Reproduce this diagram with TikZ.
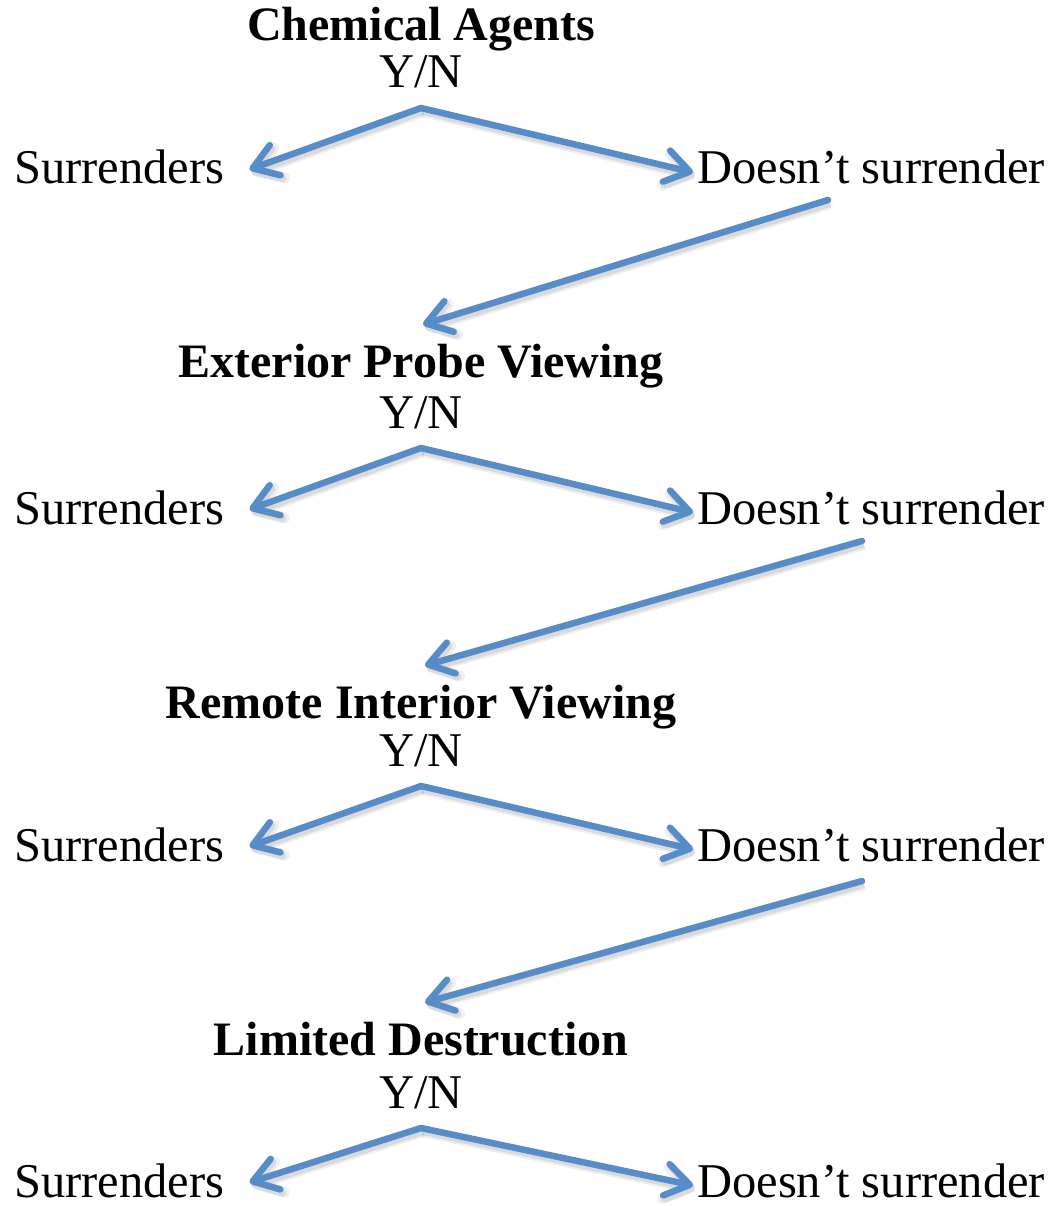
\documentclass[tikz,border=0pt]{standalone}
\usepackage{fontspec}
\setmainfont{Liberation Serif}
\usetikzlibrary{arrows.meta,calc}
\definecolor{arrowblue}{RGB}{86,140,200}
\begin{document}
\begin{tikzpicture}[x=1pt,y=-1pt,
  lbl/.style={font=\fontsize{48.5}{56}\selectfont, inner sep=0pt},
  head/.style={font=\fontsize{48}{56}\selectfont\bfseries, inner sep=0pt},
  softshadow/.style={
    preaction={draw=black!60, draw opacity=0.10, line width=11pt,
      transform canvas={shift={(2pt,-3.5pt)}}},
    preaction={draw=black!60, draw opacity=0.15, line width=7pt,
      transform canvas={shift={(2pt,-3.5pt)}}}},
  arr/.style={draw=arrowblue, line width=6.5pt, line cap=round,
    -{Straight Barb[length=24pt,width=32pt,round]}, softshadow}
]
\useasboundingbox[fill=white] (0,0) rectangle (1052,1206);

% one decision block per stage: heading, Y/N, fork to the two outcomes
\foreach \i/\txt/\hy/\yy/\sy in {
  1/{Chemical Agents}/41/88/184,
  2/{Exterior Probe Viewing}/377/428/524,
  3/{Remote Interior Viewing}/718/766/861,
  4/{Limited Destruction}/1055/1108/1197}{
  \node[head, anchor=base] (h\i) at (421,\hy) {\txt};
  \node[lbl, anchor=base] (yn\i) at (421,\yy) {Y/N};
  \node[lbl, anchor=base west] (s\i) at (14,\sy) {Surrenders};
  \node[lbl, anchor=base west] (d\i) at (697,\sy) {Doesn’t surrender};
  \coordinate (a\i) at ($(yn\i.base)+(0,20)$);
  \draw[arr] (a\i) -- ([xshift=25pt,yshift=-2pt]s\i.east);
  \draw[arr] (a\i) -- ([xshift=-4pt,yshift=-5pt]d\i.west);
}

% links from each refusal to the next stage
\coordinate (c1) at ($(d1.base west)+(131,16)$);
\coordinate (c2) at ($(d2.base west)+(165,17)$);
\coordinate (c3) at ($(d3.base west)+(165,20)$);
\draw[arr] (c1) -- ([xshift=2pt,yshift=19pt]h2.north);
\draw[arr] (c2) -- ([xshift=4pt,yshift=19pt]h3.north);
\draw[arr] (c3) -- ([xshift=4pt,yshift=19pt]h4.north);
\end{tikzpicture}
\end{document}
